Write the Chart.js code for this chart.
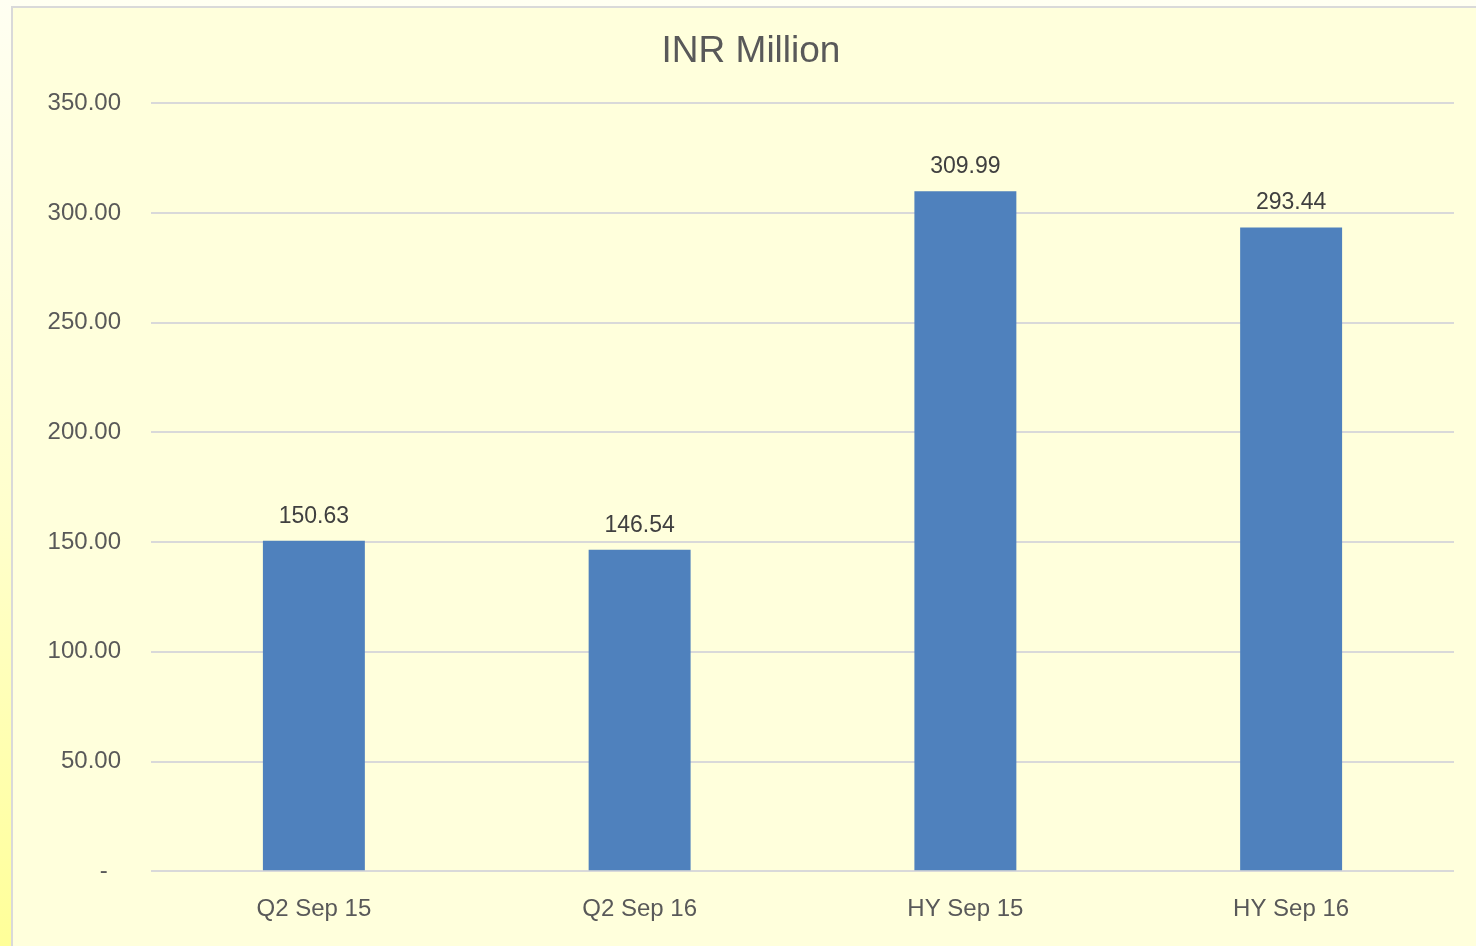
<!DOCTYPE html>
<html>
<head>
<meta charset="utf-8">
<script src="https://cdn.jsdelivr.net/npm/chart.js@4"></script>
<style>
html,body{margin:0;padding:0;width:1476px;height:946px;overflow:hidden}
body{background:linear-gradient(to bottom,#fffff2 0%,#ffffcc 55%,#ffff99 100%)}
#box{position:absolute;left:11px;top:6px;width:1480px;height:960px;background:#ffffdc;border:2px solid #d9d9d9}
#wrap{position:absolute;left:0;top:0;width:1463px;height:938px}
</style>
</head>
<body>
<div id="box"><div id="wrap"><canvas id="chart"></canvas></div></div>
<script>
let categories=["Q2 Sep 15","Q2 Sep 16","HY Sep 15","HY Sep 16"]
let values=[150.63,146.54,309.99,293.44]
let titleText="INR Million"

Chart.defaults.font.family="'Liberation Sans', Arial, sans-serif"

// draws the value above each bar
let barLabels={
  id:"barLabels",
  afterDatasetsDraw(chart){
    let ctx=chart.ctx
    let meta=chart.getDatasetMeta(0)
    ctx.save()
    ctx.font="23px 'Liberation Sans', Arial, sans-serif"
    ctx.fillStyle="#404040"
    ctx.textAlign="center"
    ctx.textBaseline="alphabetic"
    meta.data.forEach((bar,i)=>{
      ctx.fillText(values[i].toFixed(2),bar.x,bar.y-18)
    })
    ctx.restore()
  }
}

new Chart(document.getElementById("chart"),{
  type:"bar",
  data:{
    labels:categories,
    datasets:[{
      data:values,
      backgroundColor:"#4f81bd",
      borderWidth:0,
      categoryPercentage:1,
      barPercentage:0.313
    }]
  },
  options:{
    responsive:true,
    maintainAspectRatio:false,
    animation:false,
    layout:{padding:{left:35,right:22,top:0,bottom:6}},
    plugins:{
      legend:{display:false},
      tooltip:{enabled:false},
      title:{
        display:true,
        text:titleText,
        color:"#595959",
        font:{size:37,weight:"normal"},
        padding:{top:22,bottom:29}
      }
    },
    scales:{
      x:{
        grid:{display:false},
        border:{display:false},
        ticks:{color:"#595959",font:{size:24},padding:16,maxRotation:0}
      },
      y:{
        min:0,
        max:350,
        grid:{color:"#d9d9d9",lineWidth:2,drawTicks:false},
        border:{display:false},
        ticks:{
          stepSize:50,
          color:"#595959",
          font:{size:24},
          padding:30,
          callback:v=>v===0?"-  ":v.toFixed(2)
        },
        afterFit(axis){axis.width=103}
      }
    }
  },
  plugins:[barLabels]
})
</script>
</body>
</html>
